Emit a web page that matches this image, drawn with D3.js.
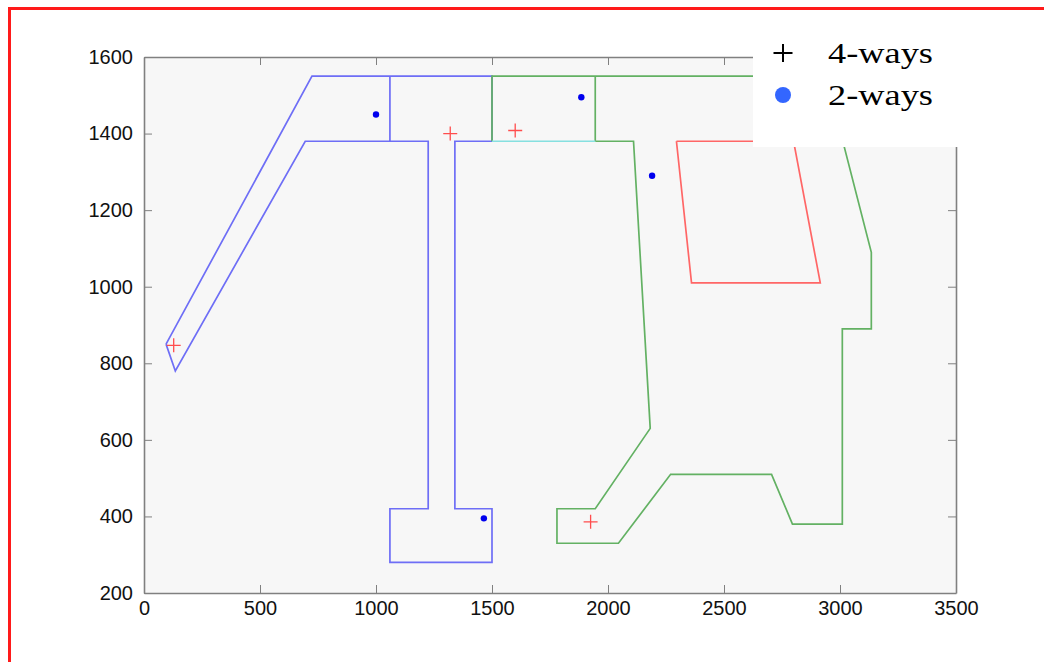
<!DOCTYPE html>
<html>
<head>
<meta charset="utf-8">
<script src="https://cdn.jsdelivr.net/npm/d3@7"></script>
<style>
  body { margin: 0; background: #fff; }
  .tick text { font-family: "Liberation Sans", Arial, sans-serif; font-size: 20px; fill: #111; }
</style>
</head>
<body>
<svg id="drawing_region"></svg>
<script>
// outlines of the regions (x, y in data units)
const bluePath = [[95,850],[724,1550],[1500,1550],[1500,1380],[1340,1380],[1340,420],[1500,420],[1500,280],
                  [1060,280],[1060,420],[1225,420],[1225,1380],[695,1380],[135,780],[95,850]];
const blueDivider = [[1060,1550],[1060,1380]];
const greenPath = [[1500,1380],[1500,1550],[2940,1550],[3135,1090],[3135,890],[3010,890],[3010,380],[2795,380],
                   [2705,510],[2270,510],[2045,330],[1780,330],[1780,420],[1945,420],[2182,630],[2110,1380],[1945,1380]];
const greenDivider = [[1945,1550],[1945,1380]];
const cyanLine = [[1500,1380],[1945,1380]];
const redPath = [[2295,1380],[2800,1380],[2915,1010],[2360,1010],[2295,1380]];

// intersections
const fourWays = [[128,847],[1320,1400],[1600,1408],[1925,386]];
const twoWays = [[1000,1450],[1885,1495],[2190,1290],[1465,395]];

// axes
const xTicks = [0,500,1000,1500,2000,2500,3000,3500];
const yTicks = [200,400,600,800,1000,1200,1400,1600];
const legendLabels = ['4-ways','2-ways'];

const config = {
    width: 1044,
    height: 662,
    margin: {top:57, right:88, bottom:69, left:144}
};

const svg = d3.select('#drawing_region')
    .attr('width', config.width)
    .attr('height', config.height);

const inner_width = config.width - config.margin.left - config.margin.right;
const inner_height = config.height - config.margin.top - config.margin.bottom;

const chart = svg.append('g')
    .attr('transform', `translate(${config.margin.left}, ${config.margin.top})`);

const xscale = d3.scaleLinear().domain([0, 3500]).range([0, inner_width]);
const yscale = d3.scaleLinear().domain([200, 1600]).range([inner_height, 0]);

chart.append('rect')
    .attr('width', inner_width)
    .attr('height', inner_height)
    .attr('fill', '#f7f7f7');

const line = d3.line().x(d => xscale(d[0])).y(d => yscale(d[1]));

const outlines = [
    {pts: bluePath, color: '#6e6ef6'},
    {pts: blueDivider, color: '#6e6ef6'},
    {pts: greenPath, color: '#63b163'},
    {pts: greenDivider, color: '#63b163'},
    {pts: cyanLine, color: '#86e0e0'},
    {pts: redPath, color: '#ff6666'}
];

chart.selectAll('path.outline')
    .data(outlines)
    .join('path')
    .attr('class', 'outline')
    .attr('d', d => line(d.pts))
    .attr('fill', 'none')
    .attr('stroke', d => d.color)
    .attr('stroke-width', 1.7);

chart.selectAll('circle.two')
    .data(twoWays)
    .join('circle')
    .attr('class', 'two')
    .attr('cx', d => xscale(d[0]))
    .attr('cy', d => yscale(d[1]))
    .attr('r', 3.2)
    .attr('fill', '#0000ee');

const plus = 7;
chart.selectAll('path.four')
    .data(fourWays)
    .join('path')
    .attr('class', 'four')
    .attr('d', d => {
        const x = xscale(d[0]), y = yscale(d[1]);
        return `M${x-plus},${y}H${x+plus}M${x},${y-plus}V${y+plus}`;
    })
    .attr('stroke', '#ff4d4d')
    .attr('stroke-width', 1.3);

// box axes, ticks pointing inwards on all four sides
const axisColor = '#808080';
const fmt = d3.format('d');
const xaxis_group = chart.append('g')
    .attr('transform', `translate(0, ${inner_height})`)
    .call(d3.axisBottom(xscale).tickValues(xTicks).tickFormat(fmt).tickSize(-8).tickSizeOuter(0).tickPadding(8));
const yaxis_group = chart.append('g')
    .call(d3.axisLeft(yscale).tickValues(yTicks).tickFormat(fmt).tickSize(-8).tickSizeOuter(0).tickPadding(11));
chart.append('g')
    .call(d3.axisTop(xscale).tickValues(xTicks).tickSize(-8).tickSizeOuter(0).tickFormat(''));
chart.append('g')
    .attr('transform', `translate(${inner_width}, 0)`)
    .call(d3.axisRight(yscale).tickValues(yTicks).tickSize(-8).tickSizeOuter(0).tickFormat(''));

chart.selectAll('.domain').attr('stroke', axisColor).attr('stroke-width', 1.6);
chart.selectAll('.tick line').attr('stroke', axisColor).attr('stroke-width', 1);
chart.selectAll('.tick text').attr('fill', '#111');

// legend
const legend = svg.append('g');
legend.append('rect')
    .attr('x', 753).attr('y', 12)
    .attr('width', config.width - 753).attr('height', 135)
    .attr('fill', '#fff');

legend.append('path')
    .attr('d', 'M773.5,53H792.5M783,44V62')
    .attr('stroke', '#000')
    .attr('stroke-width', 2);
legend.append('circle')
    .attr('cx', 783).attr('cy', 95).attr('r', 8)
    .attr('fill', '#3366ff');

legend.selectAll('text')
    .data(legendLabels)
    .join('text')
    .attr('x', 828)
    .attr('y', (d, i) => 63 + i * 42)
    .attr('textLength', 105)
    .attr('lengthAdjust', 'spacingAndGlyphs')
    .style('font-family', '"Liberation Serif", "Times New Roman", serif')
    .style('font-size', '30px')
    .attr('fill', '#000')
    .text(d => d);

// red frame on the left and top
svg.append('path')
    .attr('d', `M9.5,${config.height}V8.5H${config.width}`)
    .attr('fill', 'none')
    .attr('stroke', '#ff1a1a')
    .attr('stroke-width', 3);
</script>
</body>
</html>
